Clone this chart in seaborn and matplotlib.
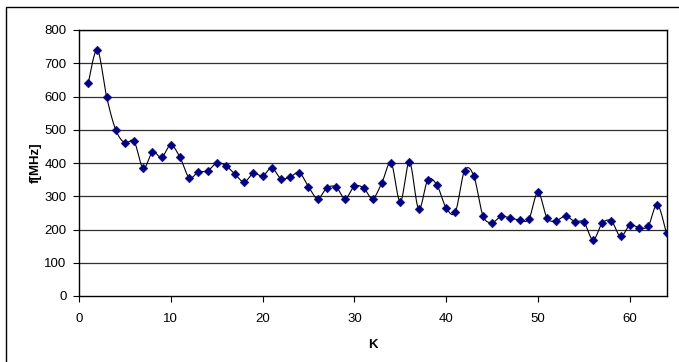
import numpy as np
import pandas as pd
import matplotlib
matplotlib.use("Agg")
import matplotlib.pyplot as plt
import seaborn as sns
from matplotlib.patches import Rectangle

k_values = list(range(1, 65))
f_values = [640, 740, 600, 500, 460, 465, 384, 433, 417, 454,
            417, 356, 373, 376, 400, 392, 366, 343, 369, 361,
            385, 353, 358, 371, 329, 293, 325, 328, 293, 330,
            325, 293, 341, 400, 283, 403, 262, 349, 333, 265,
            253, 377, 362, 242, 221, 240, 234, 229, 231, 312,
            234, 227, 241, 224, 222, 169, 219, 225, 179, 213,
            206, 210, 275, 188]
x_ticks = [0, 10, 20, 30, 40, 50, 60]
y_ticks = [0, 100, 200, 300, 400, 500, 600, 700, 800]

sns.set_style("white")
plt.rcParams['font.family'] = ['Liberation Sans', 'DejaVu Sans']
plt.rcParams['text.color'] = 'black'
plt.rcParams['xtick.color'] = 'black'
plt.rcParams['ytick.color'] = 'black'
plt.rcParams['axes.labelcolor'] = 'black'

df = pd.DataFrame({"K": k_values, "f": f_values})


def smooth_curve(x, y, n=20):
    # Excel-like smoothed line (Catmull-Rom as cubic Bezier) through data points
    x = np.asarray(x, float)
    y = np.asarray(y, float)
    px = np.concatenate([[x[0]], x, [x[-1]]])
    py = np.concatenate([[y[0]], y, [y[-1]]])
    xs, ys = [], []
    t = np.linspace(0, 1, n, endpoint=False)
    for i in range(1, len(px) - 2):
        p0 = np.array([px[i], py[i]])
        p3 = np.array([px[i + 1], py[i + 1]])
        c1 = p0 + (np.array([px[i + 1], py[i + 1]]) - np.array([px[i - 1], py[i - 1]])) / 6
        c2 = p3 - (np.array([px[i + 2], py[i + 2]]) - np.array([px[i], py[i]])) / 6
        b = ((1 - t) ** 3)[:, None] * p0 + (3 * (1 - t) ** 2 * t)[:, None] * c1 \
            + (3 * (1 - t) * t ** 2)[:, None] * c2 + (t ** 3)[:, None] * p3
        xs.extend(b[:, 0])
        ys.extend(b[:, 1])
    xs.append(x[-1])
    ys.append(y[-1])
    return pd.DataFrame({"K": xs, "f": ys})


curve = smooth_curve(df["K"], df["f"])

fig = plt.figure(figsize=(6.79, 3.62), dpi=100)
ax = fig.add_axes([79 / 679, 1 - 296 / 362, (666.5 - 79) / 679, (296 - 30) / 362])

# chart-area border
fig.patches.append(Rectangle((6 / 679, -0.01), 1.0, 1 - 7 / 362 + 0.01,
                             transform=fig.transFigure, fill=False,
                             edgecolor='black', linewidth=1.0, zorder=0))

for yv in y_ticks[1:]:
    ax.axhline(yv, color='#303030', linewidth=0.9, zorder=1)

sns.lineplot(data=curve, x="K", y="f", sort=False, estimator=None,
             color='black', linewidth=0.8, ax=ax, zorder=2)
sns.scatterplot(data=df, x="K", y="f", marker='D', s=20, color='#000080',
                edgecolor='#000080', linewidth=0.3, ax=ax, zorder=3)

ax.set_xlim(0, 64)
ax.set_ylim(0, 800)
ax.set_xticks(x_ticks)
ax.set_yticks(y_ticks)
ax.set_xticklabels([str(v) for v in x_ticks], fontsize=9.5)
ax.set_yticklabels([str(v) for v in y_ticks], fontsize=9.5)
ax.tick_params(axis='both', direction='out', length=4, width=0.8, color='black', pad=5,
               left=True, bottom=True, labelcolor='black')
ax.tick_params(axis='x', pad=8)
for s in ax.spines.values():
    s.set_color('black')
    s.set_linewidth(1.0)
ax.set_xlabel("K", fontsize=9.5, fontweight='bold', labelpad=10, color='black')
ax.set_ylabel("f[MHz]", fontsize=9.5, fontweight='bold', labelpad=2, color='black')

fig.savefig("out.png", dpi=100)
